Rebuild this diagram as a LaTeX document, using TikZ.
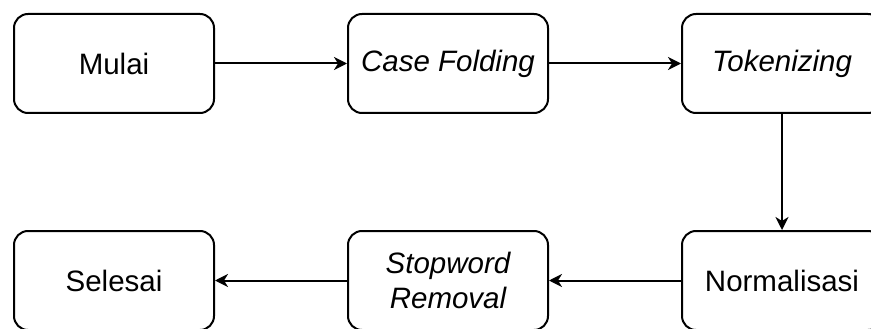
\documentclass[tikz,border=0pt]{standalone}
\usepackage{fontspec}
\setmainfont{Liberation Sans}
\usetikzlibrary{arrows.meta}
\begin{document}
\begin{tikzpicture}[x=1pt,y=-1pt,
  procbox/.style={draw=black,line width=2pt,rounded corners=14pt,minimum width=200pt,minimum height=99pt,inner sep=0pt,align=center,font=\fontsize{29.5}{35}\selectfont},
  flow/.style={draw=black,line width=2pt,-{Stealth[length=13pt,width=13pt,inset=4pt]}}]
\useasboundingbox (0,0) rectangle (871,329);
\node[procbox] (mulai) at (114,63.5) {Mulai};
\node[procbox] (case) at (448,63.5) {\itshape Case Folding};
\node[procbox] (token) at (782,63.5) {\itshape Tokenizing};
\node[procbox] (norm) at (782,280.5) {Normalisasi};
\node[procbox] (stop) at (448,280.5) {\itshape Stopword\\\itshape Removal};
\node[procbox] (selesai) at (114,280.5) {Selesai};
\draw[flow] (mulai) -- (case);
\draw[flow] (case) -- (token);
\draw[flow] (token) -- (norm);
\draw[flow] (norm) -- (stop);
\draw[flow] (stop) -- (selesai);
\end{tikzpicture}
\end{document}
